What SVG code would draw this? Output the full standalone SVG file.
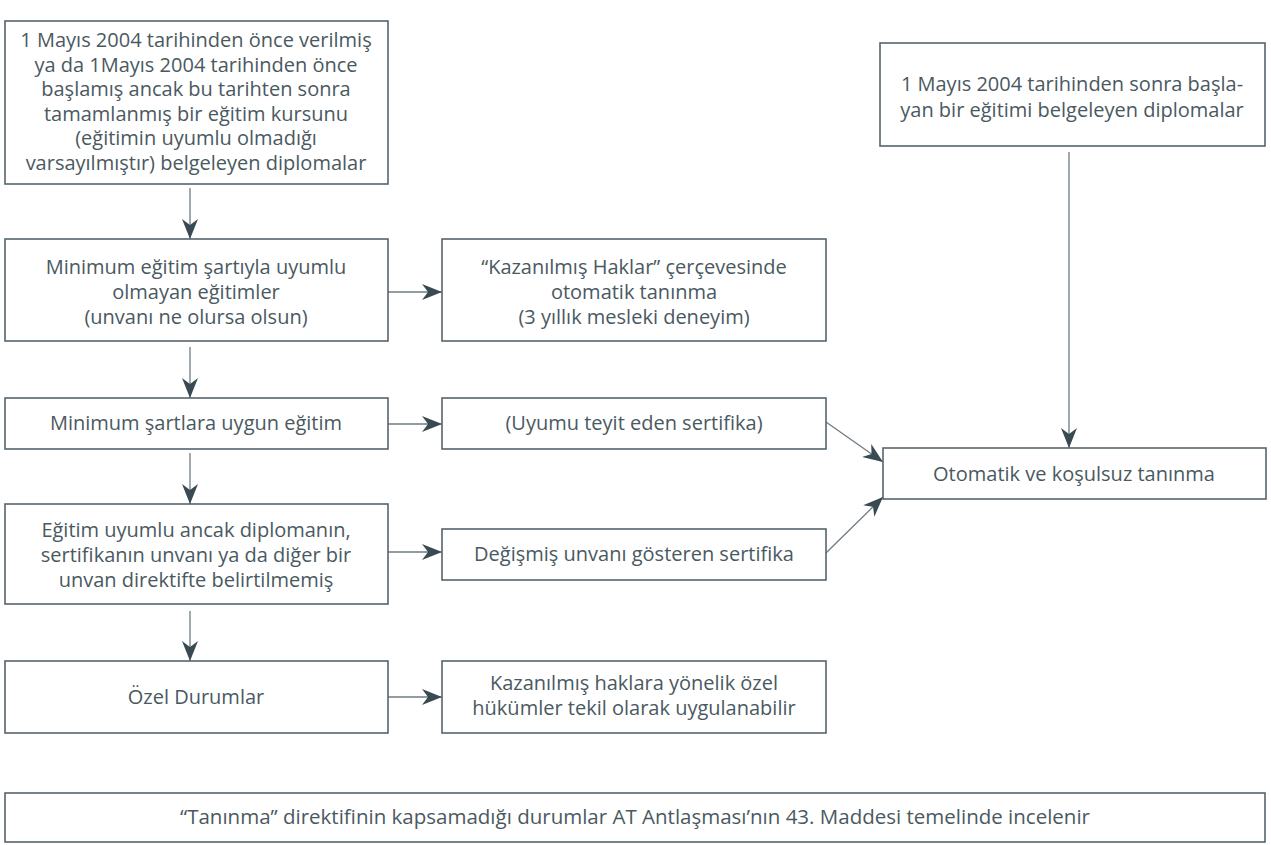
<svg xmlns="http://www.w3.org/2000/svg" width="1271" height="845" viewBox="0 0 1271 845">
<style>
.box{fill:#fff;stroke:#56656d;stroke-width:1.6}
.t{font-family:"Open Sans",Lato,"Liberation Sans",sans-serif;font-size:20px;fill:#4a5961;text-anchor:middle}
.c{stroke:#6e7c83;stroke-width:1.3;fill:none;marker-end:url(#ah)}
</style>
<defs>
<marker id="ah" markerUnits="userSpaceOnUse" markerWidth="22" markerHeight="16" refX="20" refY="8" orient="auto">
<path d="M0,0 L20,8 L0,16 L6,8 Z" fill="#3a4a53"/>
</marker>
</defs>
<rect width="1271" height="845" fill="#fff"/>
<g id="connectors">
<line class="c" x1="190" y1="188" x2="190" y2="239"/>
<line class="c" x1="190" y1="347" x2="190" y2="398"/>
<line class="c" x1="190" y1="453" x2="190" y2="504"/>
<line class="c" x1="190" y1="611" x2="190" y2="661"/>
<line class="c" x1="388" y1="292" x2="442" y2="292"/>
<line class="c" x1="388" y1="424" x2="442" y2="424"/>
<line class="c" x1="388" y1="552" x2="442" y2="552"/>
<line class="c" x1="388" y1="697" x2="442" y2="697"/>
<line class="c" x1="826" y1="422" x2="883" y2="462"/>
<line class="c" x1="826" y1="553" x2="883" y2="497"/>
<line class="c" x1="1069" y1="152" x2="1069" y2="448"/>
</g>
<g id="n1">
<rect class="box" x="5" y="21" width="383" height="163"/>
<text class="t" x="196" y="47">1 Mayıs 2004 tarihinden önce verilmiş</text>
<text class="t" x="196" y="71.5">ya da 1Mayıs 2004 tarihinden önce</text>
<text class="t" x="196" y="96">başlamış ancak bu tarihten sonra</text>
<text class="t" x="196" y="120.5">tamamlanmış bir eğitim kursunu</text>
<text class="t" x="196" y="145">(eğitimin uyumlu olmadığı</text>
<text class="t" x="196" y="169.5">varsayılmıştır) belgeleyen diplomalar</text>
</g>
<g id="n2">
<rect class="box" x="880" y="43" width="385" height="103"/>
<text class="t" x="1072" y="91">1 Mayıs 2004 tarihinden sonra başla-</text>
<text class="t" x="1072" y="117">yan bir eğitimi belgeleyen diplomalar</text>
</g>
<g id="n3">
<rect class="box" x="5" y="239" width="383" height="102"/>
<text class="t" x="196" y="274">Minimum eğitim şartıyla uyumlu</text>
<text class="t" x="196" y="299">olmayan eğitimler</text>
<text class="t" x="196" y="324">(unvanı ne olursa olsun)</text>
</g>
<g id="n4">
<rect class="box" x="442" y="239" width="384" height="102"/>
<text class="t" x="634" y="274">“Kazanılmış Haklar” çerçevesinde</text>
<text class="t" x="634" y="299">otomatik tanınma</text>
<text class="t" x="634" y="324">(3 yıllık mesleki deneyim)</text>
</g>
<g id="n5">
<rect class="box" x="5" y="398" width="383" height="51"/>
<text class="t" x="196" y="430">Minimum şartlara uygun eğitim</text>
</g>
<g id="n6">
<rect class="box" x="442" y="398" width="384" height="51"/>
<text class="t" x="634" y="430">(Uyumu teyit eden sertifika)</text>
</g>
<g id="n7">
<rect class="box" x="883" y="448" width="383" height="51"/>
<text class="t" x="1074" y="481">Otomatik ve koşulsuz tanınma</text>
</g>
<g id="n8">
<rect class="box" x="5" y="504" width="383" height="100"/>
<text class="t" x="196" y="537">Eğitim uyumlu ancak diplomanın,</text>
<text class="t" x="196" y="562">sertifikanın unvanı ya da diğer bir</text>
<text class="t" x="196" y="587">unvan direktifte belirtilmemiş</text>
</g>
<g id="n9">
<rect class="box" x="442" y="529" width="384" height="51"/>
<text class="t" x="634" y="561">Değişmiş unvanı gösteren sertifika</text>
</g>
<g id="n10">
<rect class="box" x="5" y="661" width="383" height="72"/>
<text class="t" x="196" y="704">Özel Durumlar</text>
</g>
<g id="n11">
<rect class="box" x="442" y="661" width="384" height="72"/>
<text class="t" x="634" y="690">Kazanılmış haklara yönelik özel</text>
<text class="t" x="634" y="715">hükümler tekil olarak uygulanabilir</text>
</g>
<g id="n12">
<rect class="box" x="5" y="793" width="1260" height="49"/>
<text class="t" x="635" y="824" style="font-size:20.5px">“Tanınma” direktifinin kapsamadığı durumlar AT Antlaşması’nın 43. Maddesi temelinde incelenir</text>
</g>
</svg>
